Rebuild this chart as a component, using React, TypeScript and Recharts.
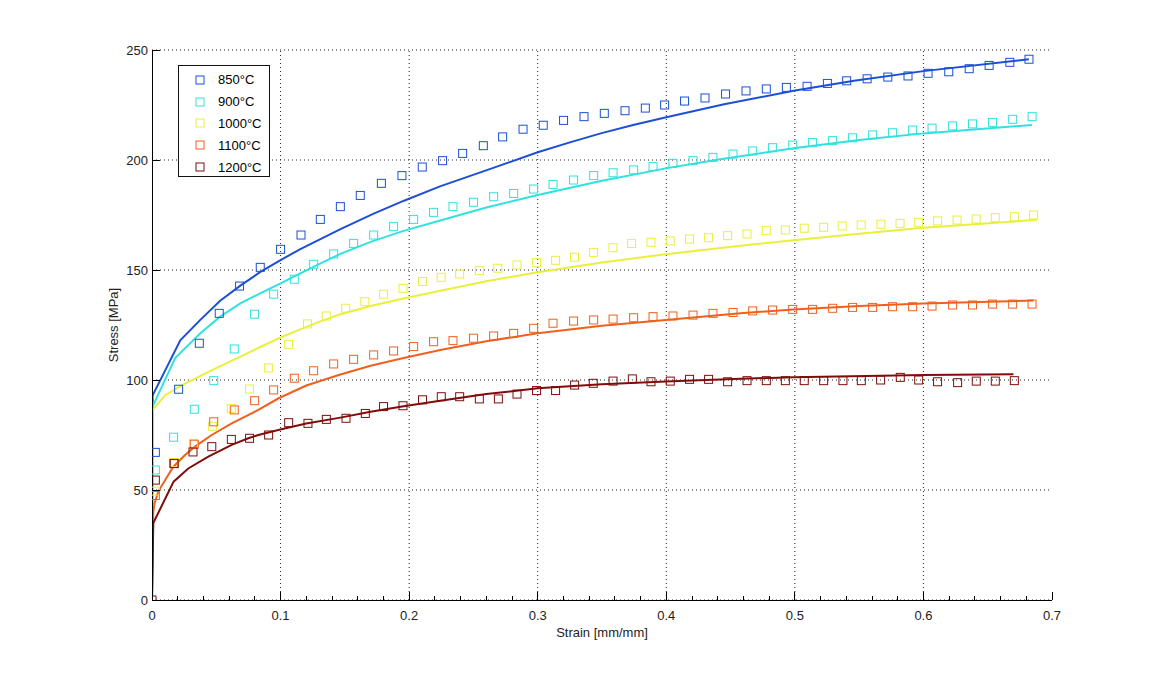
import React from 'react'
import { ComposedChart, Line, Scatter, XAxis, YAxis, CartesianGrid, ReferenceLine, Legend, Label } from 'recharts'

// measured points (squares)
const strain850 = [0.0026, 0.0207, 0.0368, 0.0523, 0.0681, 0.0842, 0.1, 0.1159, 0.1309, 0.1465, 0.162, 0.1784, 0.1944, 0.2102, 0.226, 0.2416, 0.2577, 0.2727, 0.2886, 0.3043, 0.3201, 0.336, 0.3518, 0.3679, 0.3837, 0.3987, 0.4142, 0.4301, 0.4461, 0.462, 0.4778, 0.4934, 0.5095, 0.5253, 0.5403, 0.5562, 0.5723, 0.588, 0.6036, 0.6197, 0.6356, 0.6511, 0.6672, 0.6821]
const stress850 = [67.1, 95.8, 116.7, 130.3, 142.7, 151.2, 159.4, 165.9, 173.0, 178.8, 183.9, 189.4, 192.9, 196.8, 199.7, 203.0, 206.5, 210.5, 214.0, 215.8, 218.0, 219.7, 221.2, 222.4, 223.6, 225.0, 226.8, 228.2, 230.0, 231.4, 232.3, 233.0, 233.5, 234.8, 236.0, 236.9, 237.7, 238.2, 239.4, 240.1, 241.5, 243.0, 244.4, 245.8]

// 900 and 1100 share the same strain steps
const strain900 = [0.0026, 0.0168, 0.0329, 0.048, 0.064, 0.0798, 0.0946, 0.1107, 0.1257, 0.1413, 0.1568, 0.1724, 0.1879, 0.2035, 0.219, 0.2341, 0.2501, 0.2657, 0.2813, 0.2968, 0.3119, 0.3279, 0.3435, 0.3586, 0.3746, 0.3897, 0.4052, 0.4208, 0.4363, 0.4519, 0.4672, 0.4827, 0.4983, 0.5138, 0.5294, 0.5449, 0.5605, 0.576, 0.5916, 0.6067, 0.6227, 0.6382, 0.6538, 0.6694, 0.6845]
const stress900 = [59.1, 74.0, 86.7, 99.7, 114.1, 129.9, 139.0, 145.8, 152.6, 157.3, 162.1, 165.9, 169.7, 173.0, 176.2, 178.8, 180.8, 183.3, 184.8, 186.8, 188.9, 190.9, 192.9, 194.2, 195.5, 197.0, 198.5, 199.7, 201.2, 202.7, 204.1, 205.6, 206.8, 207.9, 208.8, 210.1, 211.4, 212.4, 213.6, 214.5, 215.5, 216.4, 217.1, 218.5, 219.7]
const stress1100 = [47.5, 62.1, 70.8, 81.0, 86.4, 90.6, 95.5, 100.8, 104.2, 107.3, 109.4, 111.4, 113.2, 115.2, 117.4, 117.9, 119.0, 120.0, 121.2, 123.5, 125.8, 126.8, 127.3, 127.7, 128.3, 128.8, 129.1, 129.5, 130.3, 130.7, 131.4, 131.8, 132.1, 132.1, 132.6, 133.0, 133.0, 133.3, 133.3, 133.6, 134.1, 134.1, 134.5, 134.5, 134.5]

const strain1000 = [0.0026, 0.0173, 0.0322, 0.047, 0.0617, 0.0758, 0.0907, 0.1063, 0.1209, 0.1355, 0.1506, 0.1655, 0.1801, 0.1952, 0.2104, 0.2249, 0.2393, 0.2546, 0.269, 0.2839, 0.2991, 0.3139, 0.3286, 0.3434, 0.3585, 0.373, 0.3881, 0.4031, 0.4181, 0.4329, 0.4477, 0.4628, 0.4778, 0.4926, 0.5073, 0.5224, 0.5368, 0.5516, 0.5669, 0.5818, 0.5963, 0.611, 0.6262, 0.641, 0.6559, 0.6707, 0.6857]
const stress1000 = [49.5, 62.5, 71.2, 79.0, 87.1, 95.9, 105.5, 116.2, 125.5, 129.1, 132.6, 135.6, 139.0, 141.7, 144.8, 146.7, 148.2, 149.7, 150.8, 152.3, 153.3, 154.4, 155.8, 158.0, 160.1, 162.0, 162.6, 163.2, 164.1, 164.7, 165.6, 166.4, 167.9, 168.2, 169.0, 169.4, 170.0, 170.5, 170.8, 171.2, 171.7, 172.3, 172.7, 173.2, 173.8, 174.2, 175.0]

const strain1200 = [0, 0.0026, 0.0173, 0.0319, 0.0465, 0.0617, 0.0759, 0.0907, 0.1063, 0.1213, 0.1356, 0.1509, 0.1659, 0.1801, 0.1952, 0.2104, 0.225, 0.2393, 0.2546, 0.2694, 0.2839, 0.2991, 0.3139, 0.3287, 0.3432, 0.3586, 0.3736, 0.3881, 0.4031, 0.4181, 0.4329, 0.4477, 0.4628, 0.4778, 0.4926, 0.5073, 0.5224, 0.5374, 0.5517, 0.5667, 0.582, 0.5963, 0.611, 0.6266, 0.6411, 0.6559, 0.6707]
const stress1200 = [0, 54.5, 62.0, 67.3, 69.7, 73.0, 73.5, 75.0, 80.6, 80.3, 82.1, 82.6, 84.8, 87.9, 88.3, 91.0, 92.4, 92.4, 91.4, 91.4, 93.6, 95.2, 95.2, 97.7, 98.5, 99.5, 100.5, 99.2, 99.5, 100.3, 100.3, 99.2, 99.7, 99.7, 99.7, 99.7, 99.7, 99.7, 99.7, 100.0, 101.2, 100.0, 99.2, 98.8, 99.5, 99.5, 99.7]

// fitted model curves
const fitStrain850 = [0, 0.0005, 0.022, 0.037, 0.053, 0.069, 0.084, 0.1, 0.115, 0.131, 0.147, 0.172, 0.196, 0.224, 0.261, 0.3, 0.325, 0.349, 0.375, 0.4, 0.445, 0.499, 0.546, 0.6, 0.682]
const fitStress850 = [0, 93, 118, 127, 136, 143, 149, 154.5, 159.4, 164, 168.7, 175.5, 181.5, 188, 195.5, 203.5, 208, 212.1, 216, 219.4, 225.3, 231.5, 236, 240.4, 245.8]

const fitStrain900 = [0, 0.0005, 0.018, 0.0376, 0.053, 0.0687, 0.0842, 0.1, 0.1153, 0.13, 0.1465, 0.17, 0.1957, 0.2242, 0.26, 0.3, 0.35, 0.3995, 0.442, 0.499, 0.55, 0.6, 0.6845]
const fitStress900 = [0, 88, 110, 121.2, 128.8, 134.8, 139.4, 143.9, 148.5, 152.7, 157.3, 162.8, 167.8, 172.5, 178.4, 184.1, 190.6, 196.2, 200.3, 205.3, 209.1, 212.1, 215.9]

const fitStrain1000 = [0, 0.0005, 0.0104, 0.026, 0.0467, 0.0842, 0.1, 0.1153, 0.13, 0.1465, 0.17, 0.1957, 0.2242, 0.26, 0.3, 0.35, 0.3995, 0.4576, 0.499, 0.55, 0.6, 0.6883]
const fitStress1000 = [0, 86.4, 93.2, 98.5, 104.5, 115, 119.3, 123, 126.4, 129.9, 133.6, 137, 140.6, 144.9, 149, 153.4, 157.2, 161, 163.5, 166.5, 169.2, 172.8]

const fitStrain1100 = [0, 0.001, 0.002, 0.005, 0.0166, 0.0257, 0.0334, 0.0464, 0.062, 0.0827, 0.0985, 0.12, 0.1465, 0.17, 0.1957, 0.2242, 0.26, 0.3, 0.35, 0.3995, 0.4576, 0.499, 0.55, 0.6, 0.6857]
const fitStress1100 = [0, 40, 44, 49.5, 60.6, 65.9, 69.7, 75, 80.3, 86.4, 91.7, 97.5, 102.5, 106.5, 110, 113.6, 117.6, 121.2, 124.7, 127.3, 130.3, 132.1, 133.6, 134.8, 136.1]

const fitStrain1200 = [0, 0.001, 0.0168, 0.0282, 0.0438, 0.062, 0.0749, 0.0827, 0.0998, 0.12, 0.1465, 0.17, 0.1957, 0.2242, 0.26, 0.3, 0.35, 0.3995, 0.4576, 0.499, 0.6, 0.67]
const fitStress1200 = [0, 35, 53.8, 59.8, 65.2, 70.5, 73.5, 75, 77.5, 80.2, 82.9, 85.6, 88.1, 90.6, 93.6, 96.2, 98.1, 99.3, 100.6, 101.2, 102.3, 102.6]

const xTicks = [0, 0.02, 0.04, 0.06, 0.08, 0.1, 0.12, 0.14, 0.16, 0.18, 0.2, 0.22, 0.24, 0.26, 0.28, 0.3, 0.32, 0.34, 0.36, 0.38, 0.4, 0.42, 0.44, 0.46, 0.48, 0.5, 0.52, 0.54, 0.56, 0.58, 0.6, 0.62, 0.64, 0.66, 0.68, 0.7]
const xLabels = [0, 0.1, 0.2, 0.3, 0.4, 0.5, 0.6, 0.7]
const xGrid = [0.1, 0.2, 0.3, 0.4, 0.5, 0.6]
const yTicks = [0, 50, 100, 150, 200, 250]

const zip = (xs: number[], ys: number[]) => xs.map((x, i) => ({ x, y: ys[i] }))

const series = [
  { name: '850°C', color: '#1c4fd6', points: zip(strain850, stress850), fit: zip(fitStrain850, fitStress850) },
  { name: '900°C', color: '#2ee2de', points: zip(strain900, stress900), fit: zip(fitStrain900, fitStress900) },
  { name: '1000°C', color: '#eaf03a', points: zip(strain1000, stress1000), fit: zip(fitStrain1000, fitStress1000) },
  { name: '1100°C', color: '#f0601c', points: zip(strain900, stress1100), fit: zip(fitStrain1100, fitStress1100) },
  { name: '1200°C', color: '#800c0c', points: zip(strain1200, stress1200), fit: zip(fitStrain1200, fitStress1200) },
]

const FONT = '"Liberation Sans", Arial, sans-serif'
const isMajor = (v: number) => xLabels.some((m) => Math.abs(m - v) < 1e-9)

const BottomTick = ({ x, y, payload }: any) => {
  const major = isMajor(payload.value)
  return (
    <g>
      <line x1={x} x2={x} y1={y} y2={y - (major ? 8 : 4)} stroke="#000" shapeRendering="crispEdges" />
      {major && (
        <text x={x} y={y + 20} textAnchor="middle" fontSize={13} fontFamily={FONT} fill="#222">
          {String(payload.value)}
        </text>
      )}
    </g>
  )
}

const TopTick = ({ x, y, payload }: any) => (
  <line x1={x} x2={x} y1={y} y2={y + (isMajor(payload.value) ? 8 : 4)} stroke="#000" shapeRendering="crispEdges" />
)

const LeftTick = ({ x, y, payload }: any) => (
  <g>
    <line x1={x} x2={x + 8} y1={y} y2={y} stroke="#000" shapeRendering="crispEdges" />
    <text x={x - 4} y={y + 4.5} textAnchor="end" fontSize={13} fontFamily={FONT} fill="#222">
      {String(payload.value)}
    </text>
  </g>
)

const RightTick = ({ x, y }: any) => (
  <line x1={x} x2={x - 8} y1={y} y2={y} stroke="#000" shapeRendering="crispEdges" />
)

const square = (color: string) => (props: any) => (
  <rect x={props.cx - 4} y={props.cy - 4} width={8} height={8} fill="none" stroke={color} strokeWidth={1} />
)

const LegendBox = () => (
  <div
    style={{
      width: 92,
      height: 112,
      boxSizing: 'border-box',
      border: '1px solid #111',
      background: '#fff',
      paddingTop: 3,
      fontFamily: FONT,
      fontSize: 13,
      color: '#000',
    }}
  >
    {series.map((s) => (
      <div key={s.name} style={{ height: 21.8, display: 'flex', alignItems: 'center' }}>
        <svg width={10} height={10} style={{ marginLeft: 16, marginRight: 13 }}>
          <rect x={1} y={1} width={8} height={8} fill="none" stroke={s.color} strokeWidth={1} />
        </svg>
        <span>{s.name}</span>
      </div>
    ))}
  </div>
)

export default function App() {
  return (
    <div style={{ width: 1146, height: 659, background: '#fff' }}>
      <ComposedChart width={1146} height={659} margin={{ top: 42, right: 102, bottom: 37, left: 104 }}>
        <CartesianGrid vertical={false} stroke="#222" strokeDasharray="1 3" />
        {xGrid.map((v) => (
          <ReferenceLine key={v} x={v} stroke="#222" strokeDasharray="1 3" />
        ))}
        <XAxis
          dataKey="x"
          type="number"
          domain={[0, 0.7]}
          allowDataOverflow
          ticks={xTicks}
          interval={0}
          tick={BottomTick}
          tickLine={false}
          tickSize={0}
          tickMargin={0}
          height={30}
          axisLine={{ stroke: '#000', shapeRendering: 'crispEdges' }}
        >
          <Label value="Strain [mm/mm]" position="bottom" offset={-2} style={{ fontFamily: FONT, fontSize: 13, fill: '#222' }} />
        </XAxis>
        <XAxis
          xAxisId="top"
          orientation="top"
          type="number"
          domain={[0, 0.7]}
          allowDataOverflow
          ticks={xTicks}
          interval={0}
          tick={TopTick}
          tickLine={false}
          tickSize={0}
          tickMargin={0}
          height={0}
          axisLine={{ stroke: '#000', shapeRendering: 'crispEdges' }}
        />
        <YAxis
          dataKey="y"
          type="number"
          domain={[0, 250]}
          allowDataOverflow
          ticks={yTicks}
          interval={0}
          tick={LeftTick}
          tickLine={false}
          tickSize={0}
          tickMargin={0}
          width={40}
          axisLine={{ stroke: '#000', shapeRendering: 'crispEdges' }}
        >
          <Label
            value="Stress [MPa]"
            angle={-90}
            position="insideLeft"
            offset={1}
            style={{ textAnchor: 'middle', fontFamily: FONT, fontSize: 13, fill: '#222' }}
          />
        </YAxis>
        <YAxis
          yAxisId="right"
          orientation="right"
          type="number"
          domain={[0, 250]}
          allowDataOverflow
          ticks={yTicks}
          interval={0}
          tick={RightTick}
          tickLine={false}
          tickSize={0}
          tickMargin={0}
          width={0}
          axisLine={{ stroke: '#000', shapeRendering: 'crispEdges' }}
        />
        {series.map((s) => (
          <Scatter
            key={`pts-${s.name}`}
            name={s.name}
            data={s.points}
            shape={square(s.color)}
            isAnimationActive={false}
          />
        ))}
        {series.map((s) => (
          <Line
            key={`fit-${s.name}`}
            data={s.fit}
            dataKey="y"
            type="linear"
            stroke={s.color}
            strokeWidth={2}
            dot={false}
            activeDot={false}
            legendType="none"
            isAnimationActive={false}
          />
        ))}
        <Legend
          layout="horizontal"
          align="center"
          verticalAlign="middle"
          content={() => <LegendBox />}
          wrapperStyle={{ left: 170, top: 57, width: 92, height: 112 }}
        />
      </ComposedChart>
    </div>
  )
}
